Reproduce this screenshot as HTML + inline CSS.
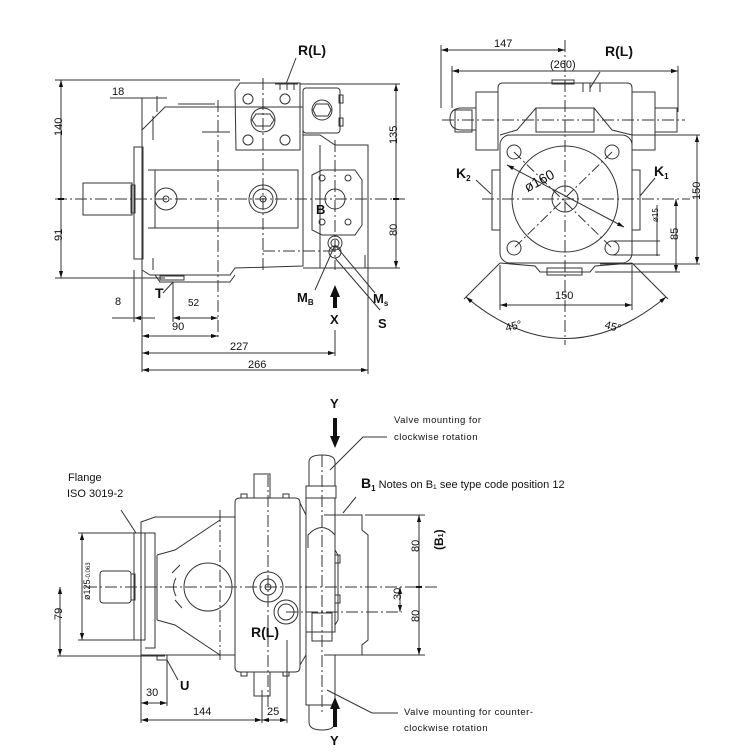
<!DOCTYPE html>
<html><head><meta charset="utf-8"><style>
html,body{margin:0;padding:0;background:#fff;}
svg{display:block;}
text{font-family:"Liberation Sans",sans-serif;fill:#111;}
.b{font-weight:bold;font-size:14px;}
.d{font-size:11px;}
.s{font-size:9.5px;letter-spacing:0.5px;}
</style></head><body>
<svg width="740" height="755" viewBox="0 0 740 755" xmlns="http://www.w3.org/2000/svg">
<defs>
<marker id="a" viewBox="0 0 10 10" refX="10" refY="5" markerWidth="7" markerHeight="7" orient="auto-start-reverse"><path d="M0,2 L10,5 L0,8 z" fill="#111"/></marker>
</defs>
<g fill="none" stroke="#333" stroke-width="1">
<!-- ========== TOP LEFT VIEW ========== -->
<!-- center lines -->
<line x1="55" y1="199" x2="405" y2="199" stroke-dasharray="12,3,2,3"/>
<line x1="263" y1="78" x2="263" y2="272" stroke-dasharray="12,3,2,3"/>
<line x1="218" y1="100" x2="218" y2="338" stroke-dasharray="12,3,2,3"/>
<line x1="335" y1="140" x2="335" y2="270" stroke-dasharray="12,3,2,3"/>
<line x1="263" y1="251" x2="335" y2="251" stroke-dasharray="12,3,2,3"/>
<!-- shaft -->
<rect x="83" y="183" width="49" height="32"/>
<rect x="131" y="185" width="4" height="28"/>
<!-- flange -->
<rect x="134" y="147" width="9" height="112"/>
<!-- body -->
<path d="M142,270 L142,130 L165,107 L303,107 L303,266 L235,268 L230,275 L150,275 Z"/>
<path d="M153,116 L153,140 M153,258 L153,270"/>
<rect x="155" y="170" width="143" height="58"/>
<path d="M148,170 L298,170 M148,228 L298,228"/>
<line x1="178" y1="104" x2="215" y2="104"/>
<line x1="202" y1="132" x2="230" y2="132"/>
<circle cx="166" cy="199" r="11"/><circle cx="166" cy="199" r="3"/>
<circle cx="263" cy="199" r="14"/><circle cx="263" cy="199" r="10"/><circle cx="263" cy="199" r="3"/>
<path d="M155,275 L160,282 L230,282 L235,275"/>
<rect x="160" y="276" width="24" height="4"/>
<!-- control block -->
<path d="M240,83 L300,83 L300,150 L236,150 L235,90 Z"/>
<circle cx="248" cy="99" r="5"/><circle cx="285" cy="99" r="5"/>
<circle cx="248" cy="140" r="5"/><circle cx="285" cy="140" r="5"/>
<circle cx="263" cy="120" r="12"/><path d="M256,114 L270,114 L274,120 L270,126 L256,126 L252,120 Z"/>
<line x1="275" y1="84" x2="298" y2="84"/>
<path d="M280,84 L280,90 M287,84 L287,90 M294,84 L294,90"/>
<!-- small right block -->
<rect x="303" y="88" width="37" height="45" rx="3"/>
<circle cx="322" cy="110" r="10"/><path d="M316,104 L328,104 L331,110 L328,116 L316,116 L313,110 Z"/>
<rect x="339" y="95" width="4" height="8"/><rect x="339" y="118" width="4" height="8"/>
<!-- right body -->
<path d="M303,135 L320,135 L335,145 L368,145 L368,268 L303,268"/>
<path d="M320,145 L320,268 M365,255 L365,268"/>
<path d="M312,175 L322,170 L355,170 L362,180 L362,225 L355,235 L322,235 L312,230 Z"/>
<circle cx="335" cy="199" r="10"/>
<circle cx="322" cy="178" r="3"/><circle cx="348" cy="178" r="3"/>
<circle cx="322" cy="222" r="3"/><circle cx="348" cy="222" r="3"/>
<circle cx="335" cy="243" r="7"/><circle cx="335" cy="243" r="4"/><circle cx="335" cy="252" r="6"/>
<!-- dims left -->
<line x1="61" y1="80" x2="61" y2="278" marker-start="url(#a)" marker-end="url(#a)"/>
<line x1="55" y1="80" x2="240" y2="80"/>
<line x1="55" y1="278" x2="165" y2="278"/>
<line x1="58" y1="199" x2="64" y2="199" stroke="#111" stroke-width="2"/>
<!-- 18 -->
<line x1="110" y1="98" x2="167" y2="98"/>
<line x1="142" y1="98" x2="142" y2="372"/>
<line x1="157" y1="96" x2="157" y2="112"/>
<!-- right dims -->
<line x1="396" y1="84" x2="396" y2="268" marker-start="url(#a)" marker-end="url(#a)"/>
<line x1="300" y1="84" x2="400" y2="84"/>
<line x1="368" y1="268" x2="400" y2="268"/>
<line x1="393" y1="199" x2="399" y2="199" stroke="#111" stroke-width="2"/>
<!-- bottom dims -->
<line x1="112" y1="318" x2="134" y2="318"/><line x1="134" y1="318" x2="142" y2="318" marker-start="url(#a)"/>
<line x1="134" y1="270" x2="134" y2="322"/>
<line x1="142" y1="318" x2="155" y2="318"/>
<line x1="173" y1="282" x2="173" y2="322"/>
<line x1="173" y1="318" x2="218" y2="318" marker-start="url(#a)" marker-end="url(#a)"/>
<line x1="142" y1="336" x2="218" y2="336" marker-start="url(#a)" marker-end="url(#a)"/>
<line x1="142" y1="353" x2="335" y2="353" marker-start="url(#a)" marker-end="url(#a)"/>
<line x1="335" y1="330" x2="335" y2="356"/>
<line x1="142" y1="370" x2="368" y2="370" marker-start="url(#a)" marker-end="url(#a)"/>
<line x1="368" y1="268" x2="368" y2="374"/>
<!-- leaders -->
<line x1="296" y1="58" x2="286" y2="84"/>
<line x1="173" y1="282" x2="163" y2="293"/>
<line x1="335" y1="245" x2="315" y2="290"/>
<line x1="335" y1="245" x2="375" y2="293"/>
<line x1="335" y1="258" x2="380" y2="310"/>
<!-- ========== TOP RIGHT VIEW ========== -->
<line x1="565" y1="40" x2="565" y2="345" stroke-dasharray="12,3,2,3"/>
<line x1="442" y1="120" x2="685" y2="120" stroke-dasharray="12,3,2,3"/>
<line x1="482" y1="199" x2="690" y2="199" stroke-dasharray="12,3,2,3"/>
<line x1="514" y1="152" x2="612" y2="248" stroke-dasharray="10,3,2,3"/>
<line x1="612" y1="152" x2="514" y2="248" stroke-dasharray="10,3,2,3"/>
<line x1="441" y1="50" x2="565" y2="50" marker-start="url(#a)" marker-end="url(#a)"/>
<line x1="441" y1="45" x2="441" y2="108"/>
<line x1="452" y1="71" x2="678" y2="71" marker-start="url(#a)" marker-end="url(#a)"/>
<line x1="452" y1="66" x2="452" y2="108"/><line x1="678" y1="66" x2="678" y2="112"/>
<path d="M498,135 L498,88 Q498,83 503,83 L627,83 Q632,83 632,88 L632,135"/>
<rect x="552" y="80" width="22" height="4"/>
<path d="M583,83 L583,92 M590,83 L590,92 M600,83 L600,92"/>
<rect x="476" y="92" width="22" height="58"/>
<rect x="632" y="92" width="23" height="58"/>
<path d="M476,108 L462,108 Q450,108 450,119 Q450,130 462,130 L476,130"/>
<rect x="455" y="110" width="17" height="22"/>
<rect x="655" y="108" width="22" height="24"/>
<path d="M536,108 L594,108 L594,132 L536,132 Z"/>
<path d="M536,108 L517,130 L500,135 M594,108 L612,130 L632,135"/>
<rect x="500" y="135" width="132" height="128" rx="10"/>
<line x1="632" y1="135" x2="700" y2="135"/>
<circle cx="565" cy="199" r="53"/>
<circle cx="565" cy="199" r="13"/>
<circle cx="514" cy="152" r="7"/><circle cx="612" cy="152" r="7"/><circle cx="514" cy="248" r="7"/><circle cx="612" cy="248" r="7"/>
<line x1="507" y1="165" x2="624" y2="227" marker-start="url(#a)" marker-end="url(#a)"/>
<rect x="492" y="170" width="8" height="60"/><rect x="632" y="170" width="8" height="60"/>
<path d="M500,263 L535,266 L540,272 L590,272 L595,266 L632,263"/>
<rect x="547" y="268" width="35" height="7"/>
<line x1="500" y1="265" x2="500" y2="310"/><line x1="632" y1="265" x2="632" y2="310"/>
<line x1="500" y1="305" x2="632" y2="305" marker-start="url(#a)" marker-end="url(#a)"/>
<line x1="500" y1="263" x2="464" y2="299"/><line x1="632" y1="263" x2="668" y2="299"/>
<path d="M466,297 Q565,380 666,297" marker-start="url(#a)" marker-end="url(#a)"/>
<line x1="697" y1="135" x2="697" y2="264" marker-start="url(#a)" marker-end="url(#a)"/>
<line x1="600" y1="264" x2="700" y2="264"/>
<line x1="676" y1="199" x2="676" y2="272" marker-start="url(#a)" marker-end="url(#a)"/>
<line x1="595" y1="272" x2="680" y2="272"/>
<line x1="657" y1="205" x2="657" y2="256"/>
<line x1="612" y1="241" x2="660" y2="241"/><line x1="612" y1="255" x2="660" y2="255"/>
<line x1="476" y1="180" x2="491" y2="194"/><line x1="655" y1="178" x2="640" y2="196"/>
<line x1="600" y1="72" x2="590" y2="88"/>
<!-- ========== BOTTOM VIEW ========== -->
<line x1="85" y1="587" x2="440" y2="587" stroke-dasharray="12,3,2,3"/>
<line x1="268" y1="475" x2="268" y2="710" stroke-dasharray="12,3,2,3"/>
<line x1="220" y1="510" x2="220" y2="660" stroke-dasharray="12,3,2,3"/>
<line x1="322" y1="455" x2="322" y2="715" stroke-dasharray="12,3,2,3"/>
<line x1="286" y1="612" x2="402" y2="612" stroke-dasharray="12,3,2,3"/>
<rect x="100" y="571" width="31" height="32" rx="3"/>
<rect x="131" y="574" width="4" height="26"/>
<rect x="134" y="533" width="11" height="107"/>
<path d="M141,655 L141,522 L155,517 L235,517 M141,655 L235,655"/>
<path d="M145,533 L155,533 L155,648 L145,648"/>
<path d="M157,555 L175,550 L220,520 M157,620 L175,625 L220,655"/>
<path d="M157,555 L157,620"/>
<circle cx="208" cy="587" r="24"/>
<path d="M172,573 L180,565 M175,600 L182,608 M176,578 Q171,587 176,596"/>
<path d="M235,502 Q235,498 240,498 L295,498 Q300,498 300,503 L300,667 Q300,672 295,672 L240,672 Q235,672 235,667 Z"/>
<path d="M300,503 L306,515 M300,665 L306,655"/>
<rect x="254" y="474" width="16" height="24"/>
<rect x="254" y="672" width="16" height="24"/>
<circle cx="268" cy="587" r="15"/><circle cx="268" cy="587" r="8"/><circle cx="268" cy="587" r="3"/>
<circle cx="286" cy="612" r="12"/><circle cx="286" cy="612" r="8"/>
<path d="M241,498 L241,494 L247,494 L247,498 M283,498 L283,494 L289,494 L289,498"/>
<path d="M241,672 L241,676 L247,676 L247,672 M283,672 L283,676 L289,676 L289,672"/>
<!-- valve slider -->
<path d="M309,486 L309,462 Q309,455 322,455 Q335,455 335,462 L335,486"/>
<rect x="306" y="486" width="30" height="12"/>
<path d="M306,498 L306,632 L335,632 L335,498"/>
<path d="M308,548 L308,535 Q322,520 335,535 L335,550"/>
<rect x="312" y="613" width="20" height="28"/>
<path d="M306,632 L306,705 L335,705 L335,655"/>
<path d="M309,705 L309,722 Q309,730 322,730 Q335,730 335,722 L335,705"/>
<!-- right block -->
<path d="M324,515 L362,515 L362,530 L368,535 L368,640 L362,645 L362,655 L324,655"/>
<path d="M335,550 L338,555 L338,620 L335,625"/>
<rect x="335" y="555" width="5" height="8"/><rect x="335" y="595" width="5" height="8"/>
<!-- dims bottom view -->
<line x1="419" y1="515" x2="419" y2="655" marker-start="url(#a)" marker-end="url(#a)"/>
<line x1="365" y1="515" x2="425" y2="515"/><line x1="362" y1="655" x2="425" y2="655"/>
<line x1="416" y1="587" x2="422" y2="587" stroke="#111" stroke-width="2"/>
<line x1="400" y1="587" x2="400" y2="612" marker-start="url(#a)" marker-end="url(#a)"/>
<line x1="82" y1="533" x2="82" y2="640" marker-start="url(#a)" marker-end="url(#a)"/>
<line x1="78" y1="533" x2="134" y2="533"/><line x1="78" y1="640" x2="134" y2="640"/>
<line x1="60" y1="587" x2="60" y2="656" marker-start="url(#a)" marker-end="url(#a)"/>
<line x1="57" y1="656" x2="165" y2="656"/>
<line x1="141" y1="655" x2="141" y2="723"/><line x1="167" y1="657" x2="167" y2="706"/>
<line x1="141" y1="703" x2="167" y2="703" marker-start="url(#a)" marker-end="url(#a)"/>
<line x1="141" y1="720" x2="262" y2="720" marker-start="url(#a)" marker-end="url(#a)"/>
<line x1="262" y1="720" x2="287" y2="720" marker-start="url(#a)" marker-end="url(#a)"/>
<line x1="262" y1="690" x2="262" y2="723"/><line x1="287" y1="640" x2="287" y2="723"/>
<rect x="157" y="655" width="10" height="5"/>
<line x1="167" y1="660" x2="178" y2="680"/>
<line x1="121" y1="510" x2="136" y2="533"/>
<path d="M330,470 L363,437 L387,437"/>
<path d="M327,690 L372,713 L398,713"/>
<line x1="343" y1="513" x2="356" y2="497"/>
</g>
<!-- arrows filled -->
<g fill="#111">
<path d="M335,285 L330,297 L333,297 L333,308 L337,308 L337,297 L340,297 Z"/>
<path d="M335,448 L330,436 L333,436 L333,418 L337,418 L337,436 L340,436 Z"/>
<path d="M335,697 L330,709 L333,709 L333,727 L337,727 L337,709 L340,709 Z"/>
</g>
<!-- TEXT -->
<text class="b" x="298" y="55">R(L)</text>
<text class="d" x="112" y="95">18</text>
<text class="d" x="58" y="140" transform="rotate(-90 58 136)">140</text>
<text class="d" x="58" y="245" transform="rotate(-90 58 241)">91</text>
<text class="d" x="393" y="148" transform="rotate(-90 393 144)">135</text>
<text class="d" x="393" y="240" transform="rotate(-90 393 236)">80</text>
<text class="b" x="316" y="214" style="font-size:13px">B</text>
<text class="b" x="155" y="298">T</text>
<text class="d" x="115" y="305">8</text>
<text class="d" x="188" y="306" style="font-size:10px">52</text>
<text class="d" x="172" y="330">90</text>
<text class="d" x="230" y="350">227</text>
<text class="d" x="248" y="368">266</text>
<text class="b" x="297" y="302" style="font-size:13px">M<tspan style="font-size:8px" dy="3">B</tspan></text>
<text class="b" x="373" y="303" style="font-size:13px">M<tspan style="font-size:8px" dy="3">s</tspan></text>
<text class="b" x="330" y="324" style="font-size:13px">X</text>
<text class="b" x="378" y="328" style="font-size:13px">S</text>
<text class="d" x="494" y="47">147</text>
<text class="d" x="550" y="68">(260)</text>
<text class="b" x="605" y="56">R(L)</text>
<text class="b" x="456" y="178">K<tspan style="font-size:8px" dy="3">2</tspan></text>
<text class="b" x="654" y="176">K<tspan style="font-size:8px" dy="3">1</tspan></text>
<text style="font-size:14px" x="523" y="185" transform="rotate(-28 540 180)">ø160</text>
<text class="d" x="555" y="299">150</text>
<text class="d" x="694" y="206" transform="rotate(-90 694 200)">150</text>
<text class="d" x="673" y="245" transform="rotate(-90 673 240)">85</text>
<text style="font-size:8px" x="654" y="226" transform="rotate(-90 654 222)">ø15</text>
<text class="d" x="505" y="330" transform="rotate(-15 512 325)">45°</text>
<text class="d" x="605" y="330" transform="rotate(15 612 325)">45°</text>
<text class="b" x="330" y="408" style="font-size:13px">Y</text>
<text class="s" x="394" y="423">Valve mounting for</text>
<text class="s" x="394" y="440">clockwise rotation</text>
<text class="b" x="361" y="488">B<tspan style="font-size:8px" dy="3">1</tspan><tspan dy="-3" style="font-weight:normal;font-size:11px"> Notes on B₁ see type code position 12</tspan></text>
<text class="d" x="68" y="481">Flange</text>
<text class="d" x="67" y="497">ISO 3019-2</text>
<text class="d" x="78" y="612" transform="rotate(-90 78 600)" style="font-size:9px">ø125<tspan style="font-size:6px">-0.063</tspan></text>
<text class="d" x="57" y="625" transform="rotate(-90 57 620)">79</text>
<text class="d" x="415" y="556" transform="rotate(-90 415 552)">80</text>
<text class="d" x="415" y="626" transform="rotate(-90 415 622)">80</text>
<text class="d" x="397" y="604" transform="rotate(-90 397 600)">30</text>
<text class="b" x="433" y="560" transform="rotate(-90 433 550)" style="font-size:12px">(B<tspan style="font-size:7px">1</tspan>)</text>
<text class="b" x="251" y="637" style="font-size:14px">R(L)</text>
<text class="b" x="180" y="690" style="font-size:13px">U</text>
<text class="d" x="146" y="696">30</text>
<text class="d" x="193" y="715">144</text>
<text class="d" x="267" y="715">25</text>
<text class="s" x="404" y="715">Valve mounting for counter-</text>
<text class="s" x="404" y="731">clockwise rotation</text>
<text class="b" x="330" y="745" style="font-size:13px">Y</text>
</svg>
</body></html>
